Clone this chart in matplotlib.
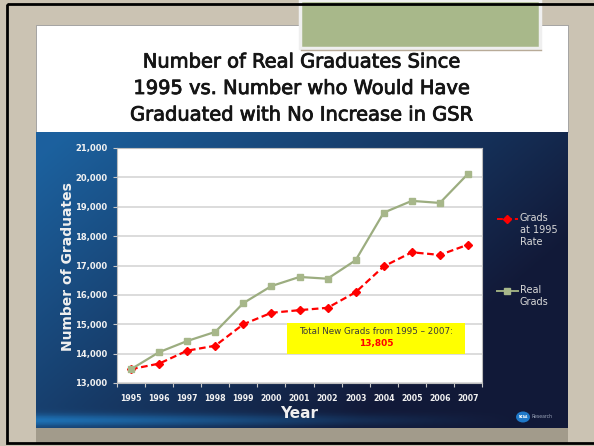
import numpy as np
import matplotlib.pyplot as plt
import matplotlib.patheffects as pe
from matplotlib.patches import Rectangle, Ellipse
from matplotlib.transforms import ScaledTranslation

# ---------------- data ---------------- #

years = ['1995', '1996', '1997', '1998', '1999', '2000', '2001',
         '2002', '2003', '2004', '2005', '2006', '2007']
real_grads = [13470, 14050, 14430, 14740, 15720, 16300, 16610,
              16550, 17180, 18800, 19200, 19130, 20120]
grads_1995_rate = [13470, 13660, 14100, 14270, 15000, 15390, 15480,
                   15560, 16090, 16970, 17450, 17360, 17710]
y_ticks = [13000, 14000, 15000, 16000, 17000, 18000, 19000, 20000, 21000]
title_lines = ['Number of Real Graduates Since',
               '1995 vs. Number who Would Have',
               'Graduated with No Increase in GSR']
note_text = 'Total New Grads from 1995 \u2013 2007:'
note_value = '13,805'

W, H = 594, 446

# ---------------- slide background ---------------- #

fig = plt.figure(figsize=(W / 100, H / 100), dpi=100)
fig.patch.set_facecolor('#cbc3b3')
bg = fig.add_axes([0, 0, 1, 1])
bg.set_xlim(0, W)
bg.set_ylim(H, 0)
bg.axis('off')

# strip under the slide
bg.add_patch(Rectangle((36, 428), 532, 16, fc='#a29b8b', ec='none'))
# white title panel
bg.add_patch(Rectangle((36, 25), 532, 107, fc='white', ec='#9a9a9a', lw=0.6))

# blue chart panel gradient
gx, gy = np.meshgrid(np.linspace(0, 1, 300), np.linspace(0, 1, 200))
blue = np.array([0.11, 0.38, 0.62])
navy = np.array([0.07, 0.10, 0.22])
glow = np.array([0.12, 0.48, 0.76])
t = np.clip(0.85 * gx + 0.55 * gy - 0.05, 0, 1)[..., None]
img = blue * (1 - t) + navy * t
py = 132 + gy * 296
g = (np.exp(-((py - 421) / 6.0) ** 2) * np.clip(1 - gx * 1.1, 0, 1) ** 1.3)[..., None]
img = img * (1 - 0.85 * g) + glow * 0.85 * g
bg.imshow(img, extent=(36, 568, 428, 132), aspect='auto', zorder=1)

# green tab
bg.add_patch(Rectangle((300, 0), 240, 48, fc='#a8b88a', ec='#efefef', lw=2.5, zorder=2))
bg.plot([301, 541], [49.5, 49.5], color='#b8ab98', lw=1, zorder=2)

# outer frame
bg.add_patch(Rectangle((7, 4), 600, 439, fc='none', ec='black', lw=2, zorder=5))

# title
for i, line in enumerate(title_lines):
    bg.text(302, 62 + i * 26.5, line, ha='center', va='center', fontsize=14,
            color='#151515', zorder=3,
            path_effects=[pe.withStroke(linewidth=0.6, foreground='#151515')])

# ---------------- chart ---------------- #

ax = fig.add_axes([117 / W, 1 - 383 / H, 365 / W, 235 / H], zorder=3)
ax.set_facecolor('white')
x = np.arange(len(years))

ax.plot(x, grads_1995_rate, color='#ff0000', ls='--', dashes=(3, 1.6), lw=1.6,
        marker='D', ms=4, mfc='#ff0000', mec='#ff0000', zorder=3)
ax.plot(x, real_grads, color='#9cad80', lw=1.6, marker='s', ms=5,
        mfc='#a7b78a', mec='#a7b78a', zorder=4)

ax.set_xlim(-0.5, len(years) - 0.5)
ax.set_ylim(y_ticks[0], y_ticks[-1])
ax.set_yticks(y_ticks)
ax.set_yticklabels(['{:,}'.format(v) for v in y_ticks])
ax.set_xticks(x)
ax.set_xticklabels(years)
ax.set_xticks(np.arange(-0.5, len(years)), minor=True)
ax.yaxis.grid(True, color='#d6d6d6', lw=1.2)
ax.set_axisbelow(True)

ax.tick_params(axis='y', colors='#c8c8c8', length=3, width=0.8, pad=4,
               labelcolor='#f2f2f2', labelsize=6)
ax.tick_params(axis='x', which='major', length=0, pad=8,
               labelcolor='#f2f2f2', labelsize=5.6)
ax.tick_params(axis='x', which='minor', length=3, width=0.8, colors='#c8c8c8')
for lab in ax.get_xticklabels() + ax.get_yticklabels():
    lab.set_fontweight('bold')
for s in ax.spines.values():
    s.set_color('#bdbdbd')
    s.set_linewidth(0.8)

# yellow note box
ax.add_patch(Rectangle((5.55, 13980), 6.34, 1065, fc='#ffff00', ec='none', zorder=5))
ax.text(8.72, 14740, note_text, ha='center', va='center', fontsize=6.3,
        color='#3a3a3a', zorder=6)
ax.text(8.72, 14330, note_value, ha='center', va='center', fontsize=6.5,
        color='#ff0000', fontweight='bold', zorder=6)

# axis titles
bg.text(68, 267, 'Number of Graduates', rotation=90, ha='center', va='center',
        fontsize=10, fontweight='bold', color='#f0f0f0', zorder=3)
bg.text(299, 413, 'Year', ha='center', va='center', fontsize=11,
        fontweight='bold', color='#f0f0f0', zorder=3)

# legend
shift = bg.transData + ScaledTranslation(0, 6 / 100, fig.dpi_scale_trans)
bg.plot([497, 518], [219, 219], color='#ff0000', ls='--', dashes=(3, 1.6), lw=1.4, zorder=3)
bg.plot([507], [219], marker='D', ms=4, color='#ff0000', zorder=3)
bg.text(520, 219, 'Grads\nat 1995\nRate', ha='left', va='top', fontsize=7,
        color='#d8d8d8', linespacing=1.25, zorder=3, transform=shift)
bg.plot([497, 518], [291, 291], color='#9cad80', lw=1.4, zorder=3)
bg.plot([507], [291], marker='s', ms=5, color='#a7b78a', zorder=3)
bg.text(520, 291, 'Real\nGrads', ha='left', va='top', fontsize=7,
        color='#d8d8d8', linespacing=1.25, zorder=3, transform=shift)

# NCAA Research badge
bg.add_patch(Ellipse((523, 417), 14, 11, fc='#1f78c8', ec='none', zorder=3))
bg.text(523, 417, 'NCAA', ha='center', va='center', fontsize=2.2,
        color='white', fontweight='bold', zorder=4)
bg.text(532, 417, 'Research', ha='left', va='center', fontsize=3.3,
        color='#9aa4b8', zorder=4)

fig.savefig('out.png', dpi=100, facecolor=fig.get_facecolor())
